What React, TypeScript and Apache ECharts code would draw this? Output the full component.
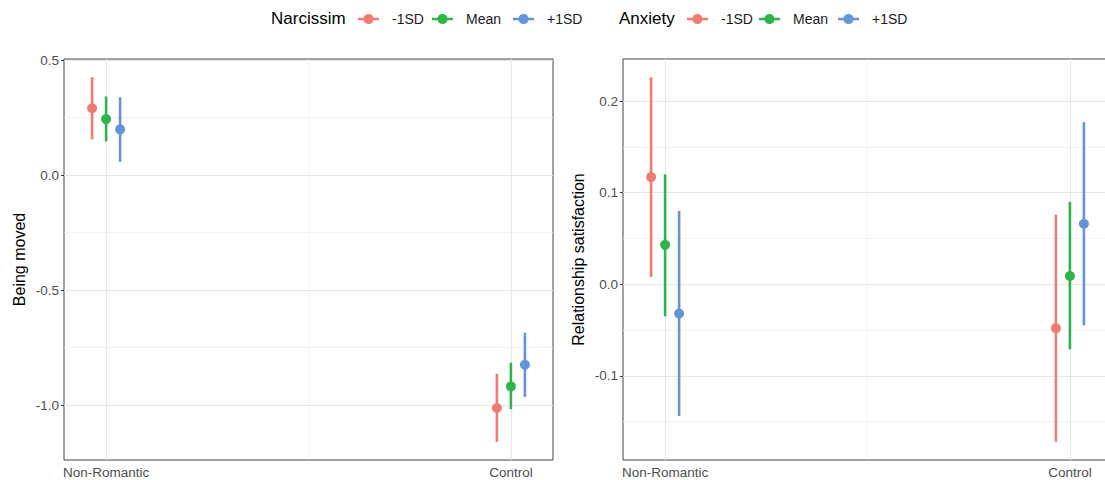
import React, { useEffect, useRef } from "react";
import * as echarts from "echarts";

const categories = ["Non-Romantic", "Control"];
const categoryPos = [1, 2];
const levels = ["-1SD", "Mean", "+1SD"];
const dodge = [-0.0346, 0, 0.0346];
const colors = ["#EF7B72", "#2FB44B", "#6394DA"];

// Being moved, per level: [Non-Romantic, Control]
const movedMean = [[0.291, -1.012], [0.244, -0.918], [0.199, -0.824]];
const movedLow = [[0.156, -1.159], [0.147, -1.017], [0.058, -0.964]];
const movedHigh = [[0.426, -0.863], [0.342, -0.815], [0.339, -0.685]];

// Relationship satisfaction, per level: [Non-Romantic, Control]
const satMean = [[0.117, -0.048], [0.043, 0.009], [-0.032, 0.066]];
const satLow = [[0.008, -0.172], [-0.035, -0.071], [-0.144, -0.045]];
const satHigh = [[0.226, 0.076], [0.12, 0.09], [0.08, 0.177]];

const movedTicks = [-1, -0.5, 0, 0.5];
const movedMinor = [-0.75, -0.25, 0.25];
const satTicks = [-0.1, 0, 0.1, 0.2];
const satMinor = [-0.15, -0.05, 0.05, 0.15];
const xMinor = [1.5];

const FONT = "Liberation Sans, Arial, Helvetica, sans-serif";
const ICON =
  "path://M0,4.75 L5.66,4.75 A5,5 0 0 1 15.34,4.75 L21,4.75 L21,7.25 L15.34,7.25 A5,5 0 0 1 5.66,7.25 L0,7.25 Z";

function renderItem(params: any, api: any) {
  const x = api.value(0);
  const m = api.value(1);
  const lo = api.value(2);
  const hi = api.value(3);
  const pLo = api.coord([x, lo]);
  const pHi = api.coord([x, hi]);
  const pM = api.coord([x, m]);
  const color = api.visual("color");
  return {
    type: "group",
    children: [
      {
        type: "line",
        shape: { x1: pLo[0], y1: pLo[1], x2: pHi[0], y2: pHi[1] },
        style: { stroke: color, lineWidth: 2.6 },
      },
      {
        type: "circle",
        shape: { cx: pM[0], cy: pM[1], r: 5 },
        style: { fill: color },
      },
    ],
  };
}

function buildSeries(
  mean: number[][],
  low: number[][],
  high: number[][],
  axisIndex: number
) {
  return levels.map((lvl, li) => ({
    type: "custom",
    name: lvl,
    xAxisIndex: axisIndex,
    yAxisIndex: axisIndex,
    z: 10,
    itemStyle: { color: colors[li] },
    encode: { x: 0, y: [1, 2, 3] },
    renderItem,
    data: categoryPos.map((c, ci) => [
      c + dodge[li],
      mean[li][ci],
      low[li][ci],
      high[li][ci],
    ]),
  }));
}

function gridSeries(axisIndex: number, major: number[], minor: number[]) {
  const majorStyle = { color: "#e6e6e6", width: 1.1, type: "solid" };
  const minorStyle = { color: "#efefef", width: 0.7, type: "solid" };
  return {
    type: "line",
    name: "grid" + axisIndex,
    xAxisIndex: axisIndex,
    yAxisIndex: axisIndex,
    data: [],
    z: 1,
    silent: true,
    markLine: {
      z: 1,
      silent: true,
      symbol: "none",
      animation: false,
      label: { show: false },
      data: [
        ...minor.map((v) => ({ yAxis: v, lineStyle: minorStyle })),
        ...xMinor.map((v) => ({ xAxis: v, lineStyle: minorStyle })),
        ...major.map((v) => ({ yAxis: v, lineStyle: majorStyle })),
        ...categoryPos.map((v) => ({ xAxis: v, lineStyle: majorStyle })),
      ],
    },
  };
}

function xAxisDef(gridIndex: number) {
  return {
    type: "value",
    gridIndex,
    min: 0.896,
    max: 2.104,
    splitLine: { show: false },
    axisLine: { show: false },
    axisTick: {
      show: true,
      length: 3,
      customValues: categoryPos,
      lineStyle: { color: "#333333", width: 1 },
    },
    axisLabel: {
      customValues: categoryPos,
      margin: 5,
      fontSize: 13.5,
      color: "#4d4d4d",
      fontFamily: FONT,
      formatter: (v: number) => categories[categoryPos.indexOf(v)] ?? "",
    },
  };
}

function yAxisDef(
  gridIndex: number,
  name: string,
  min: number,
  max: number,
  ticks: number[]
) {
  return {
    type: "value",
    gridIndex,
    min,
    max,
    name,
    nameLocation: "middle",
    nameGap: 37,
    nameTextStyle: { fontSize: 16, color: "#000000", fontFamily: FONT },
    splitLine: { show: false },
    axisLine: { show: false },
    axisTick: {
      show: true,
      length: 3,
      customValues: ticks,
      lineStyle: { color: "#333333", width: 1 },
    },
    axisLabel: {
      customValues: ticks,
      margin: 5,
      fontSize: 13.5,
      color: "#4d4d4d",
      fontFamily: FONT,
      formatter: (v: number) => v.toFixed(1),
    },
  };
}

const legendLefts = [
  [353, 427, 508],
  [682, 754, 833],
];

export default function App() {
  const ref = useRef<HTMLDivElement>(null);
  useEffect(() => {
    if (!ref.current) return;
    const chart = echarts.init(ref.current, undefined, { renderer: "svg" });
    const legends: any[] = [];
    legendLefts.forEach((row) =>
      row.forEach((left, li) =>
        legends.push({
          data: [{ name: levels[li], icon: ICON }],
          left,
          top: 7,
          itemWidth: 21,
          itemHeight: 10,
          selectedMode: false,
          textStyle: {
            fontSize: 14,
            color: "#1a1a1a",
            fontFamily: FONT,
            padding: [0, 0, 0, 8],
          },
        })
      )
    );
    chart.setOption({
      animation: false,
      backgroundColor: "#ffffff",
      grid: [
        {
          left: 64,
          top: 59,
          width: 489,
          height: 401,
          show: true,
          borderColor: "#444444",
          borderWidth: 1,
          backgroundColor: "transparent",
        },
        {
          left: 623,
          top: 59,
          width: 489,
          height: 401,
          show: true,
          borderColor: "#444444",
          borderWidth: 1,
          backgroundColor: "transparent",
        },
      ],
      xAxis: [xAxisDef(0), xAxisDef(1)],
      yAxis: [
        yAxisDef(0, "Being moved", -1.238, 0.505, movedTicks),
        yAxisDef(1, "Relationship satisfaction", -0.192, 0.246, satTicks),
      ],
      legend: legends,
      graphic: [
        {
          type: "text",
          left: 271,
          top: 10,
          style: { text: "Narcissim", fontSize: 17, fill: "#000000", fontFamily: FONT },
        },
        {
          type: "text",
          left: 619,
          top: 10,
          style: { text: "Anxiety", fontSize: 17, fill: "#000000", fontFamily: FONT },
        },
      ],
      series: [
        gridSeries(0, movedTicks, movedMinor),
        gridSeries(1, satTicks, satMinor),
        ...buildSeries(movedMean, movedLow, movedHigh, 0),
        ...buildSeries(satMean, satLow, satHigh, 1),
      ],
    });
    return () => chart.dispose();
  }, []);
  return (
    <div
      style={{
        position: "absolute",
        left: 0,
        top: 0,
        width: 1105,
        height: 480,
        overflow: "hidden",
      }}
    >
      <div ref={ref} style={{ width: 1120, height: 480 }} />
    </div>
  );
}
